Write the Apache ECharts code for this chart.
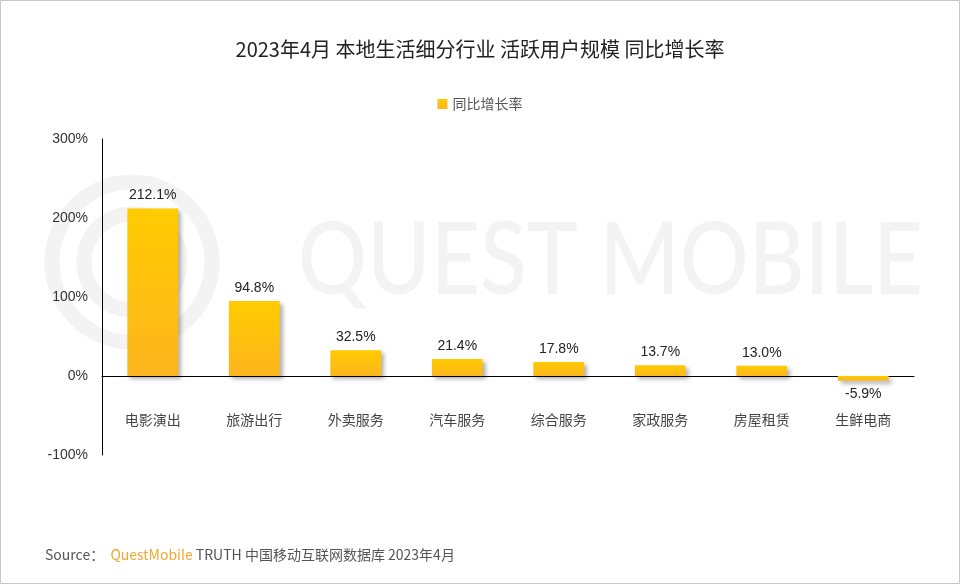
<!DOCTYPE html>
<html>
<head>
<meta charset="utf-8">
<script src="https://cdn.jsdelivr.net/npm/echarts@6/dist/echarts.min.js"></script>
<style>html,body{margin:0;padding:0;background:#fff}#c{width:960px;height:584px}</style>
</head>
<body>
<div id="c"></div>
<script>
const categories = ['电影演出','旅游出行','外卖服务','汽车服务','综合服务','家政服务','房屋租赁','生鲜电商'];
const growthValues = [212.1, 94.8, 32.5, 21.4, 17.8, 13.7, 13.0, -5.9];
const seriesName = '同比增长率';
const titleText = '2023年4月 本地生活细分行业 活跃用户规模 同比增长率';

const FONT = '"Noto Sans CJK SC", "Noto Sans", sans-serif';
const chart = echarts.init(document.getElementById('c'));
const barData = growthValues.map(v => v < 0 ? { value: v, label: { position: 'bottom', distance: 6 } } : v);
chart.setOption({
  backgroundColor: '#fff',
  animation: false,
  title: {
    text: titleText, left: 'center', top: 34,
    textStyle: { fontFamily: FONT, fontSize: 20, fontWeight: 'normal', color: '#222' }
  },
  legend: {
    data: [seriesName], top: 92, left: 'center',
    icon: 'rect', itemWidth: 10, itemHeight: 10, itemGap: 6,
    textStyle: { fontFamily: FONT, fontSize: 14, color: '#555' }
  },
  graphic: [
    { type: 'rect', shape: { x: 0.5, y: 0.5, width: 959, height: 583 }, style: { fill: 'none', stroke: '#c8c8c8', lineWidth: 1 }, z: 100 },
    { type: 'circle', shape: { cx: 132, cy: 262, r: 80 }, style: { fill: 'none', stroke: '#f3f3f3', lineWidth: 15 }, z: -10 },
    { type: 'circle', shape: { cx: 132, cy: 262, r: 48 }, style: { fill: 'none', stroke: '#f3f3f3', lineWidth: 15 }, z: -10 },
    { type: 'text', x: 298, y: 212, scaleX: 0.86, style: { text: 'QUEST MOBILE', font: '500 100px "Lato", "Open Sans", sans-serif', fill: '#f3f3f3' }, z: -10 },
    { type: 'text', left: 45, top: 548, style: {
        rich: {
          a: { fontFamily: FONT, fontSize: 14, fill: '#555' },
          b: { fontFamily: FONT, fontSize: 14, fill: '#F0A830' }
        },
        text: '{a|Source：  }{b|QuestMobile}{a| TRUTH 中国移动互联网数据库 2023年4月}'
      } }
  ],
  grid: { left: 102, right: 46, top: 139, bottom: 129 },
  xAxis: {
    type: 'category', data: categories,
    position: 'bottom', offset: -79,
    axisLine: { onZero: false, lineStyle: { color: '#000', width: 1 } },
    axisTick: { show: false },
    axisLabel: { margin: 37, fontFamily: FONT, fontSize: 14, color: '#444' }
  },
  yAxis: {
    type: 'value', min: -100, max: 300, interval: 100,
    axisLine: { show: true, lineStyle: { color: '#000', width: 1 } },
    axisTick: { show: false },
    splitLine: { show: false },
    axisLabel: { formatter: '{value}%', margin: 14, fontFamily: 'Arial, "Liberation Sans", sans-serif', fontSize: 14, color: '#333' }
  },
  series: [{
    name: seriesName, type: 'bar', data: barData, barWidth: '50%',
    itemStyle: {
      color: new echarts.graphic.LinearGradient(0, 0, 0, 1, [
        { offset: 0, color: '#FFCB00' }, { offset: 1, color: '#FDB51E' }
      ]),
      shadowColor: 'rgba(0,0,0,0.3)', shadowBlur: 4, shadowOffsetX: 3, shadowOffsetY: 3
    },
    label: {
      show: true, position: 'top', distance: 6,
      formatter: p => p.value.toFixed(1) + '%',
      fontFamily: 'Arial, "Liberation Sans", sans-serif', fontSize: 14, color: '#222'
    }
  }]
});
</script>
</body>
</html>
